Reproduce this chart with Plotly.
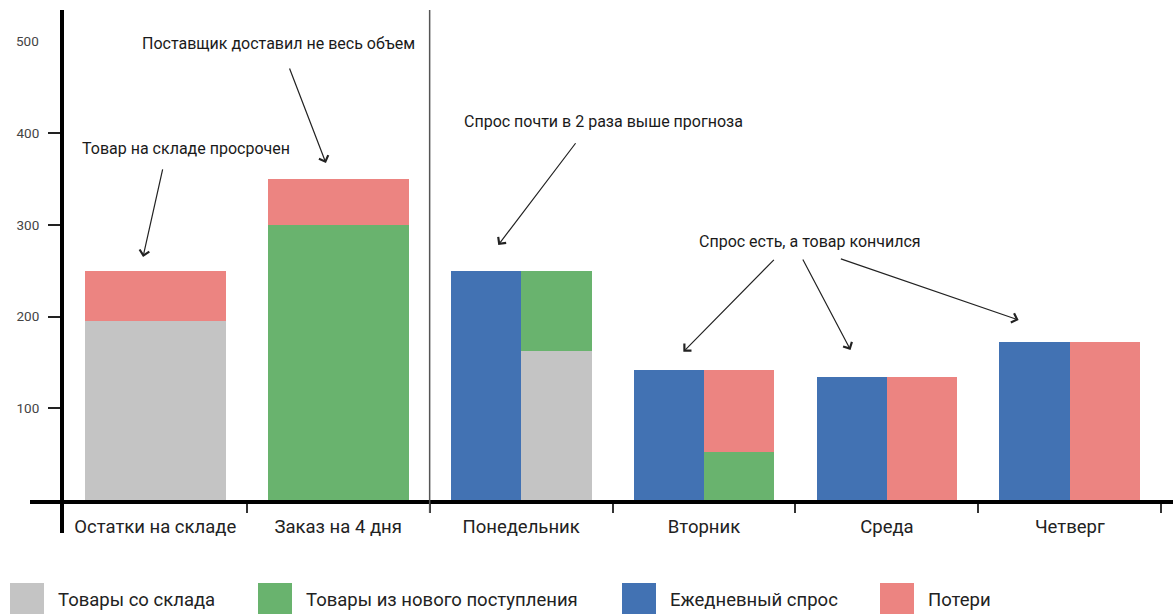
import plotly.graph_objects as go
import numpy as np

# Категории по оси X
categories = ["Остатки на складе", "Заказ на 4 дня", "Понедельник", "Вторник", "Среда", "Четверг"]

# Первые два столбца: остатки на складе и заказ
summary_stock = [195, 0]
summary_new = [0, 300]
summary_loss = [55, 50]

# Дни недели: спрос (левая половина) и поставка/потери (правая половина)
daily_demand = [250, 142, 134, 172]
day_stock = [162, 0, 0, 0]
day_new = [88, 52, 0, 0]
day_loss = [0, 90, 134, 172]

y_ticks = [100, 200, 300, 400, 500]

legend_labels = ["Товары со склада", "Товары из нового поступления", "Ежедневный спрос", "Потери"]

C_GRAY = "#C4C4C4"
C_GREEN = "#69B36E"
C_BLUE = "#4272B3"
C_PINK = "#EC8481"
FONT = "Roboto"

W, H = 1173, 614
ML, MR, MT, MB = 62, 0, 10, 114
X_MIN, X_MAX = -0.51, 5.564
Y_MAX = 534.1

FULL_W = 0.77
HALF_W = FULL_W / 2

fig = go.Figure()


def add_bar(x, values, base, width, color):
    fig.add_trace(go.Bar(
        x=x, y=values, base=base, width=width,
        marker=dict(color=color, line=dict(width=0)),
        showlegend=False, hoverinfo="skip",
    ))


# Сводные столбцы (остатки, заказ)
x_sum = np.array([0, 1])
base = np.zeros(2)
for vals, col in [(summary_stock, C_GRAY), (summary_new, C_GREEN), (summary_loss, C_PINK)]:
    v = np.array(vals, dtype=float)
    add_bar(x_sum, v, base.copy(), [FULL_W] * 2, col)
    base += v

# Дни недели: слева спрос, справа склад/поставка/потери
x_days = np.array([2, 3, 4, 5], dtype=float)
add_bar(x_days - HALF_W / 2, daily_demand, [0] * 4, [HALF_W] * 4, C_BLUE)
base = np.zeros(4)
for vals, col in [(day_stock, C_GRAY), (day_new, C_GREEN), (day_loss, C_PINK)]:
    v = np.array(vals, dtype=float)
    add_bar(x_days + HALF_W / 2, v, base.copy(), [HALF_W] * 4, col)
    base += v

plot_w = W - ML - MR
plot_h = H - MT - MB


def px_x(px):
    return (px - ML) / plot_w


def px_y(py):
    return (H - MB - py) / plot_h


def data_to_paper_x(x):
    return (x - X_MIN) / (X_MAX - X_MIN)


shapes = [
    # ось Y (выходит ниже оси X)
    dict(type="line", xref="paper", yref="paper", x0=0, x1=0, y0=px_y(533), y1=1,
         line=dict(color="black", width=4)),
    # ось X
    dict(type="line", xref="paper", yref="paper", x0=px_x(30), x1=1.0, y0=px_y(502), y1=px_y(502),
         line=dict(color="black", width=4)),
    # разделитель между планом и днями недели
    dict(type="line", xref="paper", yref="paper", x0=data_to_paper_x(1.5), x1=data_to_paper_x(1.5),
         y0=px_y(513), y1=1, line=dict(color="#555555", width=1.5)),
]

# Легенда из квадратов
legend_colors = [C_GRAY, C_GREEN, C_BLUE, C_PINK]
legend_sq_left = [10, 258, 622, 880]
annotations = []
for lbl, col, left in zip(legend_labels, legend_colors, legend_sq_left):
    shapes.append(dict(type="rect", xref="paper", yref="paper",
                       x0=px_x(left), x1=px_x(left + 34), y0=px_y(583), y1=px_y(640),
                       fillcolor=col, line=dict(width=0)))
    annotations.append(dict(xref="paper", yref="paper", x=px_x(left + 46), y=px_y(600),
                            xanchor="left", yanchor="middle", showarrow=False, text=lbl,
                            font=dict(family=FONT, size=18.5, color="#222222")))

# Подпись 500 без засечки
annotations.append(dict(xref="paper", yref="y", x=px_x(41), y=500, xanchor="right", yanchor="middle",
                        showarrow=False, text="500", font=dict(family=FONT, size=13.5, color="#444444")))

# Текстовые комментарии
notes = [
    ("Товар на складе просрочен", 0.168, 383.6),
    ("Поставщик доставил не весь объем", 0.676, 497.5),
    ("Спрос почти в 2 раза выше прогноза", 2.448, 412.3),
    ("Спрос есть, а товар кончился", 3.577, 282.3),
]
for txt, x, y in notes:
    annotations.append(dict(xref="x", yref="y", x=x, y=y, text=txt, showarrow=False,
                            xanchor="center", yanchor="middle",
                            font=dict(family=FONT, size=16, color="#1a1a1a")))

# Стрелки: (откуда x, y) -> (куда x, y)
arrows = [
    (0.042, 361.9, -0.067, 264.9),
    (0.731, 471.9, 0.933, 367.3),
    (2.304, 390.5, 1.875, 277.9),
    (3.390, 263.4, 2.887, 161.6),
    (3.536, 263.8, 3.801, 163.5),
    (3.740, 263.4, 4.720, 196.2),
]
for ax, ay, x, y in arrows:
    annotations.append(dict(xref="x", yref="y", axref="x", ayref="y", x=x, y=y, ax=ax, ay=ay,
                            text="", showarrow=True, arrowhead=4, arrowsize=1.6, arrowwidth=1.2,
                            arrowcolor="#222222", standoff=0, startstandoff=0))

fig.update_layout(
    width=W, height=H,
    margin=dict(l=ML, r=MR, t=MT, b=MB),
    plot_bgcolor="white", paper_bgcolor="white",
    barmode="overlay", bargap=0,
    showlegend=False,
    font=dict(family=FONT),
    shapes=shapes,
    annotations=annotations,
    xaxis=dict(
        range=[X_MIN, X_MAX], showgrid=False, zeroline=False, showline=False,
        tickmode="array", tickvals=list(range(len(categories))), ticktext=categories,
        ticks="", ticklabelstandoff=13,
        tickfont=dict(family=FONT, size=18.5, color="#222222"),
        minor=dict(tickmode="array", tickvals=[0.5, 1.5, 2.5, 3.5, 4.5, 5.5],
                   ticks="outside", ticklen=12, tickwidth=1.5, tickcolor="#333333"),
    ),
    yaxis=dict(
        range=[0, Y_MAX], showgrid=False, zeroline=False, showline=False,
        tickmode="array", tickvals=y_ticks[:-1],
        ticks="outside", ticklen=13, tickwidth=2, tickcolor="#222222",
        ticklabelstandoff=6,
        tickfont=dict(family=FONT, size=13.5, color="#444444"),
    ),
)

fig.write_html("out.html")
